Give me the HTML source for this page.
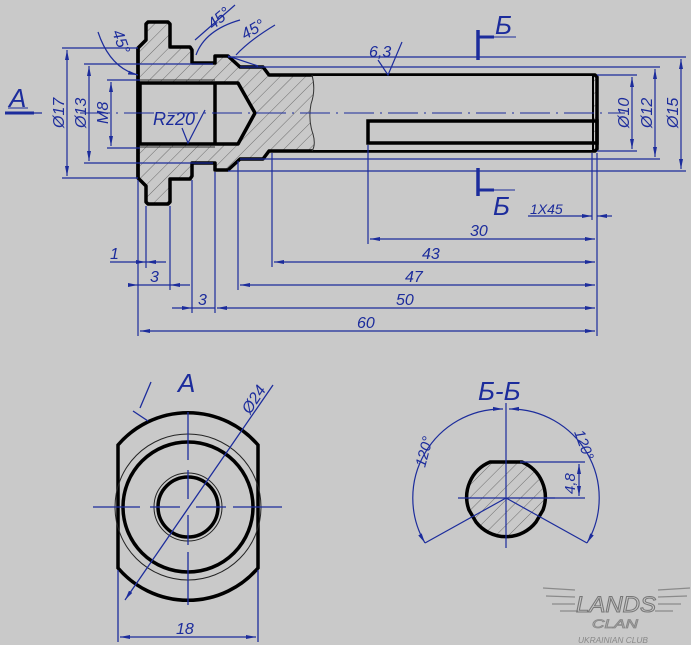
<!DOCTYPE html>
<html><head><meta charset="utf-8"><style>
html,body{margin:0;padding:0;background:#c9c9c9;}
svg{display:block;}
text{font-family:"Liberation Sans",sans-serif;font-style:italic;fill:#1c2c9c;}
</style></head><body>
<svg width="691" height="645" viewBox="0 0 691 645" xmlns="http://www.w3.org/2000/svg">
<defs>
<pattern id="h" width="9" height="9" patternUnits="userSpaceOnUse" patternTransform="rotate(45)">
<rect width="9" height="9" fill="#c9c9c9"/><line x1="0" y1="0" x2="0" y2="9" stroke="#555" stroke-width="0.8"/>
</pattern>
<marker id="a" viewBox="0 0 10 6" refX="10" refY="3" markerWidth="10" markerHeight="6" orient="auto-start-reverse" markerUnits="userSpaceOnUse">
<path d="M0,1 L10,3 L0,5z" fill="#1c2c9c"/></marker>
</defs>
<rect width="691" height="645" fill="#c9c9c9"/>

<!-- main part -->
<path d="M138,48 L146,40 L146,24 L148,22 L168,22 L170,24 L170,47 L190,47 L192,50 L192,63 L215,63 L215,56 L228,56 L240,67 L263,67 L269,75 L595,75 L597,77 L597,149 L595,151 L269,151 L263,159 L240,159 L228,170 L215,170 L215,163 L192,163 L192,176 L190,179 L170,179 L170,202 L168,204 L148,204 L146,202 L146,186 L138,178 Z" fill="url(#h)" stroke="#000" stroke-width="3.5" stroke-linejoin="round"/>
<path d="M313,76 Q316,90 311,104 Q308,120 313,134 Q316,145 313,150 L594,150 L594,76 Z" fill="#c9c9c9"/>
<path d="M312,75 Q316,90 311,104 Q308,120 313,134 Q316,145 312,151" fill="none" stroke="#333" stroke-width="1"/>
<path d="M140,83 L238,83 L255,113 L238,144 L140,144 Z" fill="#c9c9c9" stroke="#000" stroke-width="3.5" stroke-linejoin="round"/>
<line x1="215" y1="83" x2="215" y2="144" stroke="#000" stroke-width="3.5"/>
<line x1="138" y1="48" x2="138" y2="178" stroke="#000" stroke-width="3.5"/>
<line x1="140" y1="80" x2="215" y2="80" stroke="#333" stroke-width="1"/>
<line x1="140" y1="147" x2="215" y2="147" stroke="#333" stroke-width="1"/>
<rect x="368" y="121" width="229" height="22" fill="none" stroke="#000" stroke-width="3.5"/>
<line x1="593" y1="76" x2="593" y2="150" stroke="#000" stroke-width="2"/>
<line x1="80" y1="113" x2="625" y2="113" stroke="#1c2c9c" stroke-width="1" stroke-dasharray="30,6,2,6"/>

<g stroke="#1c2c9c" stroke-width="1.2" fill="none">
<line x1="62" y1="48" x2="138" y2="48"/><line x1="62" y1="178" x2="138" y2="178"/>
<line x1="67" y1="50" x2="67" y2="176" marker-start="url(#a)" marker-end="url(#a)"/>
<line x1="84" y1="64" x2="213" y2="64"/><line x1="84" y1="163" x2="213" y2="163"/>
<line x1="89" y1="66" x2="89" y2="161" marker-start="url(#a)" marker-end="url(#a)"/>
<line x1="107" y1="80" x2="140" y2="80"/><line x1="107" y1="148" x2="140" y2="148"/>
<line x1="111" y1="82" x2="111" y2="146" marker-start="url(#a)" marker-end="url(#a)"/>
<line x1="597" y1="75" x2="637" y2="75"/><line x1="597" y1="151" x2="637" y2="151"/>
<line x1="632" y1="77" x2="632" y2="149" marker-start="url(#a)" marker-end="url(#a)"/>
<line x1="240" y1="67" x2="660" y2="67"/><line x1="240" y1="159" x2="660" y2="159"/>
<line x1="655" y1="69" x2="655" y2="157" marker-start="url(#a)" marker-end="url(#a)"/>
<line x1="228" y1="57" x2="686" y2="57"/><line x1="228" y1="171" x2="686" y2="171"/>
<line x1="681" y1="59" x2="681" y2="169" marker-start="url(#a)" marker-end="url(#a)"/>
<line x1="138" y1="180" x2="138" y2="336"/>
<line x1="146" y1="206" x2="146" y2="268"/>
<line x1="170" y1="206" x2="170" y2="290"/>
<line x1="192" y1="180" x2="192" y2="313"/>
<line x1="215" y1="172" x2="215" y2="313"/>
<line x1="238" y1="161" x2="238" y2="290"/>
<line x1="272" y1="153" x2="272" y2="267"/>
<line x1="368" y1="145" x2="368" y2="244"/>
<line x1="597" y1="153" x2="597" y2="336"/>
<line x1="592" y1="153" x2="592" y2="220"/>
<line x1="370" y1="239" x2="595" y2="239" marker-start="url(#a)" marker-end="url(#a)"/>
<line x1="274" y1="262" x2="595" y2="262" marker-start="url(#a)" marker-end="url(#a)"/>
<line x1="240" y1="285" x2="595" y2="285" marker-start="url(#a)" marker-end="url(#a)"/>
<line x1="217" y1="308" x2="595" y2="308" marker-start="url(#a)" marker-end="url(#a)"/>
<line x1="140" y1="331" x2="595" y2="331" marker-start="url(#a)" marker-end="url(#a)"/>
<line x1="110" y1="262" x2="146" y2="262" marker-end="url(#a)"/><line x1="166" y1="262" x2="146" y2="262" marker-end="url(#a)"/>
<line x1="128" y1="285" x2="138" y2="285" marker-end="url(#a)"/><line x1="190" y1="285" x2="170" y2="285" marker-end="url(#a)"/>
<line x1="138" y1="285" x2="170" y2="285"/>
<line x1="172" y1="308" x2="192" y2="308" marker-end="url(#a)"/><line x1="192" y1="308" x2="215" y2="308"/>
<line x1="528" y1="216" x2="592" y2="216" marker-end="url(#a)"/><line x1="612" y1="216" x2="597" y2="216" marker-end="url(#a)"/>
<path d="M98,32 Q110,68 138,75" marker-end="url(#a)"/>
<path d="M196,55 Q205,30 240,20"/>
<path d="M236,55 Q250,40 275,25"/>
<line x1="195" y1="40" x2="235" y2="5"/>
<line x1="228" y1="56" x2="258" y2="66"/>
<path d="M378,60 L388,75 L402,42"/>
<path d="M182,128 L188,143 L205,110"/>
</g>
<g stroke="#1c2c9c" fill="none">
<line x1="478" y1="30" x2="478" y2="60" stroke-width="3.5"/>
<line x1="478" y1="37" x2="516" y2="37" stroke-width="1"/><line x1="478" y1="37" x2="494" y2="37" stroke-width="3"/>
<line x1="478" y1="168" x2="478" y2="196" stroke-width="3.5"/>
<line x1="478" y1="190" x2="515" y2="190" stroke-width="1"/><line x1="478" y1="190" x2="494" y2="190" stroke-width="3"/>
<line x1="5" y1="113" x2="42" y2="113" stroke-width="1.2"/><line x1="5" y1="113" x2="34" y2="113" stroke-width="3"/>
<line x1="8" y1="108" x2="28" y2="108" stroke-width="1"/>
</g>
<text x="495" y="34" font-size="26">Б</text>
<text x="493" y="215" font-size="26">Б</text>
<text x="9" y="107" font-size="26">A</text>
<text x="530" y="214" font-size="14">1X45</text>
<text x="470" y="236" font-size="16">30</text>
<text x="422" y="259" font-size="16">43</text>
<text x="405" y="282" font-size="16">47</text>
<text x="396" y="305" font-size="16">50</text>
<text x="357" y="328" font-size="16">60</text>
<text x="110" y="259" font-size="16">1</text>
<text x="150" y="282" font-size="16">3</text>
<text x="198" y="305" font-size="16">3</text>
<text x="369" y="57" font-size="16">6,3</text>
<text x="153" y="125" font-size="18">Rz20</text>
<text font-size="16" transform="translate(64,128) rotate(-90)">Ø17</text>
<text font-size="16" transform="translate(86,128) rotate(-90)">Ø13</text>
<text font-size="16" transform="translate(108,124) rotate(-90)">M8</text>
<text font-size="16" transform="translate(629,128) rotate(-90)">Ø10</text>
<text font-size="16" transform="translate(652,128) rotate(-90)">Ø12</text>
<text font-size="16" transform="translate(678,128) rotate(-90)">Ø15</text>
<text font-size="16" transform="translate(213,30) rotate(-40)">45°</text>
<text font-size="16" transform="translate(245,40) rotate(-30)">45°</text>
<text font-size="16" transform="translate(112,32) rotate(70)">45°</text>

<path d="M118,445 A92,92 0 0 1 258,445 L258,568 A92,92 0 0 1 118,568 Z" fill="none" stroke="#000" stroke-width="3.5"/>
<circle cx="188" cy="507" r="65" fill="none" stroke="#000" stroke-width="3.5"/>
<circle cx="188" cy="507" r="73" fill="none" stroke="#222" stroke-width="1"/>
<circle cx="188" cy="507" r="30" fill="none" stroke="#000" stroke-width="3.5"/>
<circle cx="188" cy="507" r="34" fill="none" stroke="#222" stroke-width="1"/>
<g stroke="#1c2c9c" stroke-width="1.3" fill="none">
<line x1="93" y1="507" x2="140" y2="507"/><line x1="150" y1="507" x2="180" y2="507"/><line x1="196" y1="507" x2="226" y2="507"/><line x1="233" y1="507" x2="282" y2="507"/>
<line x1="188" y1="412" x2="188" y2="460"/><line x1="188" y1="470" x2="188" y2="499"/><line x1="188" y1="515" x2="188" y2="545"/><line x1="188" y1="552" x2="188" y2="605"/>
<line x1="125" y1="600" x2="273" y2="385" marker-start="url(#a)"/>
<line x1="140" y1="408" x2="151" y2="382"/><line x1="133" y1="411" x2="148" y2="421"/>
<line x1="118" y1="570" x2="118" y2="642"/><line x1="258" y1="570" x2="258" y2="642"/>
<line x1="120" y1="637" x2="256" y2="637" marker-start="url(#a)" marker-end="url(#a)"/>
</g>
<text x="178" y="392" font-size="26">A</text>
<text x="176" y="634" font-size="16">18</text>
<text font-size="16" transform="translate(250,415) rotate(-57)">Ø24</text>

<path d="M490,462 L522,462 A38,38 0 0 1 543,510 L536,522 A38,38 0 0 1 476,522 L469,510 A38,38 0 0 1 490,462 Z" fill="url(#h)" stroke="#000" stroke-width="3.5" stroke-linejoin="round"/>
<g stroke="#1c2c9c" stroke-width="1.2" fill="none">
<line x1="506" y1="403" x2="506" y2="548"/>
<line x1="458" y1="498" x2="555" y2="498"/>
<line x1="425" y1="543" x2="506" y2="498"/><line x1="506" y1="498" x2="587" y2="543"/>
<path d="M503,409 A89,89 0 0 0 425,543" marker-start="url(#a)" marker-end="url(#a)"/>
<path d="M509,409 A89,89 0 0 1 587,543" marker-start="url(#a)" marker-end="url(#a)"/>
<line x1="520" y1="462" x2="585" y2="462"/><line x1="545" y1="498" x2="585" y2="498"/>
<line x1="579" y1="464" x2="579" y2="496" marker-start="url(#a)" marker-end="url(#a)"/>
</g>
<text x="478" y="400" font-size="26">Б-Б</text>
<text font-size="15" transform="translate(425,468) rotate(-75)">120°</text>
<text font-size="15" transform="translate(574,432) rotate(70)">120°</text>
<text font-size="15" transform="translate(575,494) rotate(-90)">4,8</text>

<g fill="none" stroke="#8a8a8a" stroke-width="1.2">
<path d="M543,588 L575,590 M546,596 L575,597 M552,604 L575,604 M560,611 L578,611"/>
<path d="M690,588 L658,590 M687,596 L658,597 M681,604 L658,604 M673,611 L655,611"/>
</g>
<text x="576" y="612" font-size="22" font-style="normal" style="fill:none;stroke:#777;stroke-width:1" textLength="80" lengthAdjust="spacingAndGlyphs">LANDS</text>
<text x="592" y="628" font-size="12" font-style="normal" style="fill:none;stroke:#888;stroke-width:0.8" textLength="46" lengthAdjust="spacingAndGlyphs">CLAN</text>
<text x="578" y="643" font-size="8" font-style="normal" style="fill:#888" textLength="70" lengthAdjust="spacingAndGlyphs">UKRAINIAN CLUB</text>
</svg>
</body></html>
